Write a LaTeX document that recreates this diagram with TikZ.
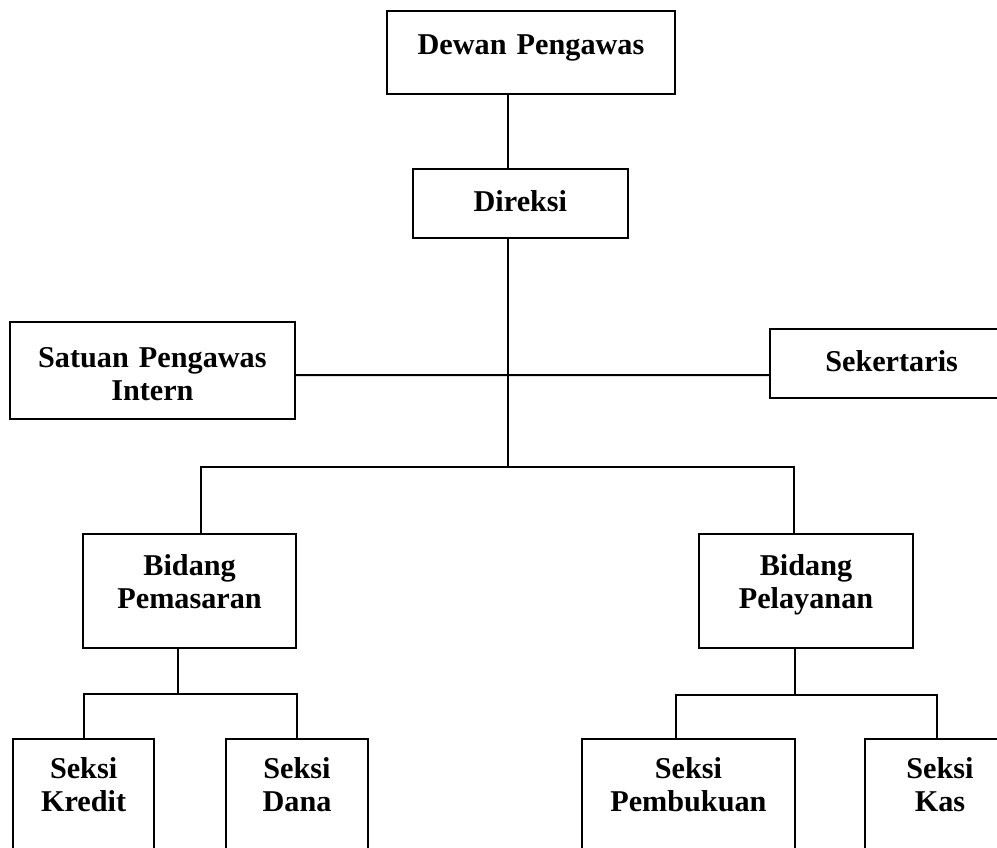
\documentclass[tikz,border=0pt]{standalone}
\usepackage{fontspec}
\setmainfont{Liberation Serif}
\tikzstyle{link} = [line width=1.4pt]
\tikzset{every node/.style={align=center}}

\begin{document}
\begin{tikzpicture}[
    unit/.style={rectangle, draw, line width=1.6pt, inner sep=0pt, anchor=north,
                 font=\bfseries\fontsize{21.5}{24}\selectfont}
]
  \path[use as bounding box, clip] (0,0) rectangle (24.925,-21.2);

  % --- top management ---
  \node[unit, text width=7.2cm, text height=1.075cm, text depth=1.0cm]
       (DP) at (13.275,-0.25) {Dewan Pengawas};
  \node[unit, text width=5.375cm, text height=1.05cm, text depth=0.675cm]
       (DR) at (13.01,-4.2) {Direksi};
  \coordinate (DRin) at ([xshift=-0.3cm]DR.north);
  \draw[link] (DRin) -- (DRin |- DP.south);

  % --- staff units ---
  \node[unit, text width=7.125cm, text height=1.125cm, text depth=1.3cm]
       (SPI) at (3.81,-8.025) {Satuan Pengawas\\Intern};
  \node[unit, text width=6.075cm, text height=1.05cm, text depth=0.675cm]
       (SEK) at (22.29,-8.2) {Sekertaris};
  \draw[link] ([yshift=-0.1125cm]SPI.east) -- ([yshift=-0.2875cm]SEK.west);

  % --- bidang ---
  \node[unit, text width=5.325cm, text height=1.025cm, text depth=1.825cm]
       (BM) at (4.74,-13.325) {Bidang\\Pemasaran};
  \node[unit, text width=5.35cm, text height=1.025cm, text depth=1.825cm]
       (BL) at (20.15,-13.325) {Bidang\\Pelayanan};
  \coordinate (bus) at ([xshift=-0.3cm,yshift=-5.7cm]DR.south);
  \draw[link] ([xshift=-0.3cm]DR.south) -- (bus);
  \draw[link] (bus) -| ([xshift=0.285cm]BM.north);
  \draw[link] (bus) -| ([xshift=-0.3cm]BL.north);

  % --- seksi ---
  \node[unit, text width=3.525cm, text height=0.975cm, text depth=3.0cm]
       (SK) at (2.09,-18.45) {Seksi\\Kredit};
  \node[unit, text width=3.55cm, text height=0.975cm, text depth=3.0cm]
       (SD) at (7.425,-18.45) {Seksi\\Dana};
  \node[unit, text width=5.325cm, text height=0.975cm, text depth=3.0cm]
       (SP) at (17.21,-18.45) {Seksi\\Pembukuan};
  \node[unit, text width=3.75cm, text height=0.975cm, text depth=3.0cm]
       (SKS) at (23.5,-18.45) {Seksi\\Kas};
  \coordinate (fork1) at ([xshift=-0.29cm,yshift=-1.125cm]BM.south);
  \draw[link] ([xshift=-0.29cm]BM.south) -- (fork1);
  \draw[link] (fork1) -| (SK.north);
  \draw[link] (fork1) -| (SD.north);
  \coordinate (fork2) at ([xshift=-0.275cm,yshift=-1.15cm]BL.south);
  \draw[link] ([xshift=-0.275cm]BL.south) -- (fork2);
  \draw[link] (fork2) -| ([xshift=-0.31cm]SP.north);
  \draw[link] (fork2) -| ([xshift=-0.075cm]SKS.north);
\end{tikzpicture}
\end{document}
